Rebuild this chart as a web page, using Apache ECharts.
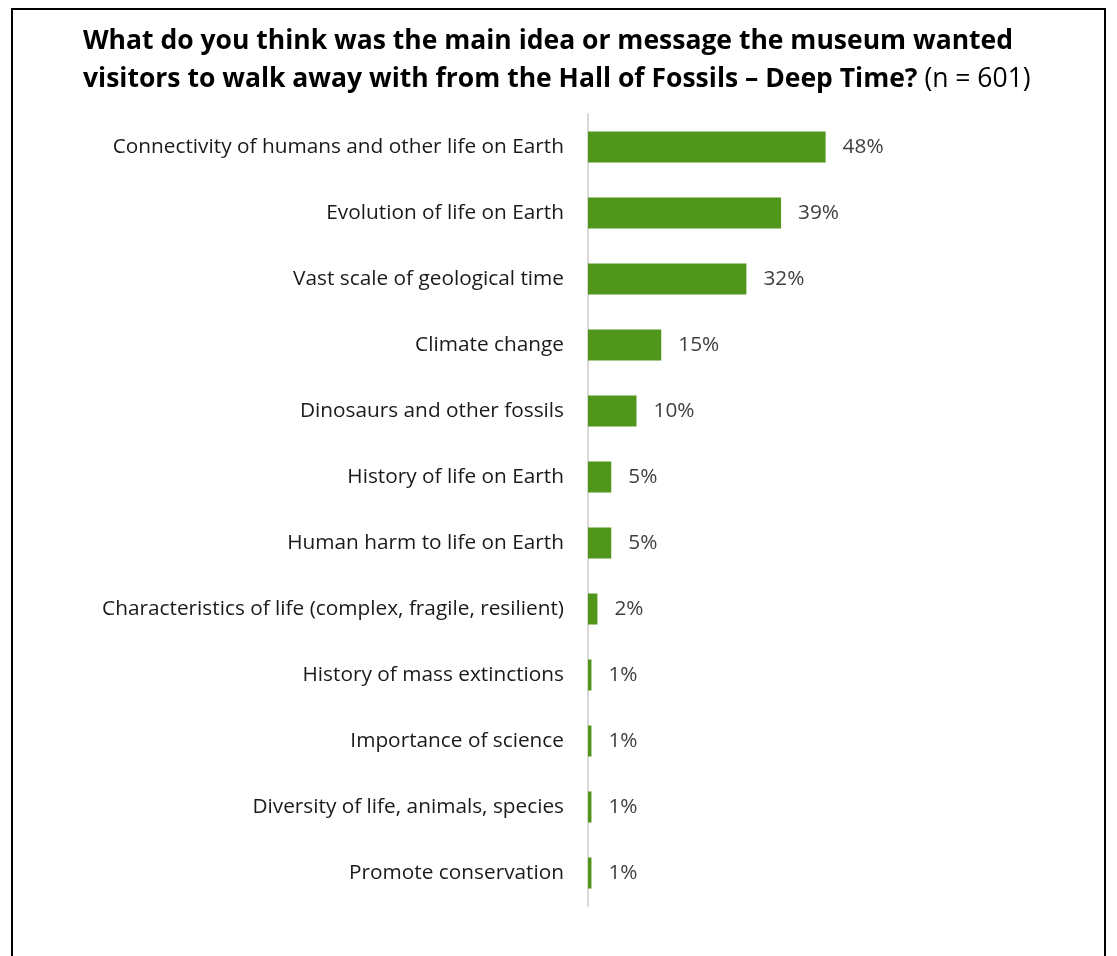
<!DOCTYPE html>
<html>
<head>
<meta charset="utf-8">
<script src="https://cdn.jsdelivr.net/npm/echarts@6/dist/echarts.min.js"></script>
<style>
  html, body { margin: 0; padding: 0; background: #fff; }
  #frame { position: absolute; left: 11px; top: 8px; width: 1095px; height: 960px; border: 2px solid #000; box-sizing: border-box; }
  #chart { position: absolute; left: 0; top: 0; width: 1117px; height: 956px; }
</style>
</head>
<body>
<div id="frame"></div>
<div id="chart"></div>
<script>
// answers, top to bottom
const categories = [
  'Connectivity of humans and other life on Earth',
  'Evolution of life on Earth',
  'Vast scale of geological time',
  'Climate change',
  'Dinosaurs and other fossils',
  'History of life on Earth',
  'Human harm to life on Earth',
  'Characteristics of life (complex, fragile, resilient)',
  'History of mass extinctions',
  'Importance of science',
  'Diversity of life, animals, species',
  'Promote conservation'
];
// percent of respondents (bar lengths)
const values = [48.0, 39.0, 32.0, 14.8, 9.8, 4.7, 4.7, 1.9, 0.7, 0.7, 0.7, 0.7];

const titleLine1 = 'What do you think was the main idea or message the museum wanted';
const titleLine2 = 'visitors to walk away with from the Hall of Fossils \u2013 Deep Time?';
const sampleNote = ' (n = 601)';

const chart = echarts.init(document.getElementById('chart'), null, { renderer: 'canvas' });

const option = {
  backgroundColor: 'transparent',
  animation: false,
  title: {
    text: '{b|' + titleLine1 + '}\n{b|' + titleLine2 + '}{n|' + sampleNote + '}',
    left: 78,
    top: 17,
    textStyle: {
      rich: {
        b: { fontFamily: 'Open Sans', fontWeight: 'bold', fontSize: 26.5, color: '#000', lineHeight: 38 },
        n: { fontFamily: 'Open Sans', fontWeight: 'normal', fontSize: 26.5, color: '#000', lineHeight: 38 }
      }
    }
  },
  grid: { left: 588, top: 114, width: 495, height: 792, containLabel: false },
  xAxis: {
    type: 'value',
    min: 0,
    max: 100,
    show: false
  },
  yAxis: {
    type: 'category',
    data: categories,
    inverse: true,
    axisLine: { show: true, lineStyle: { color: '#d9d9d9', width: 2 } },
    axisTick: { show: false },
    axisLabel: {
      margin: 24,
      fontFamily: 'Open Sans',
      fontSize: 20.8,
      color: '#1a1a1a'
    }
  },
  series: [{
    type: 'bar',
    data: values,
    barCategoryGap: '53%',
    itemStyle: { color: '#4f961b' },
    label: {
      show: true,
      position: 'right',
      distance: 17,
      fontFamily: 'Open Sans',
      fontSize: 20.8,
      color: '#404040',
      formatter: p => Math.max(1, Math.round(p.value)) + '%'
    }
  }]
};

chart.setOption(option);
</script>
</body>
</html>
